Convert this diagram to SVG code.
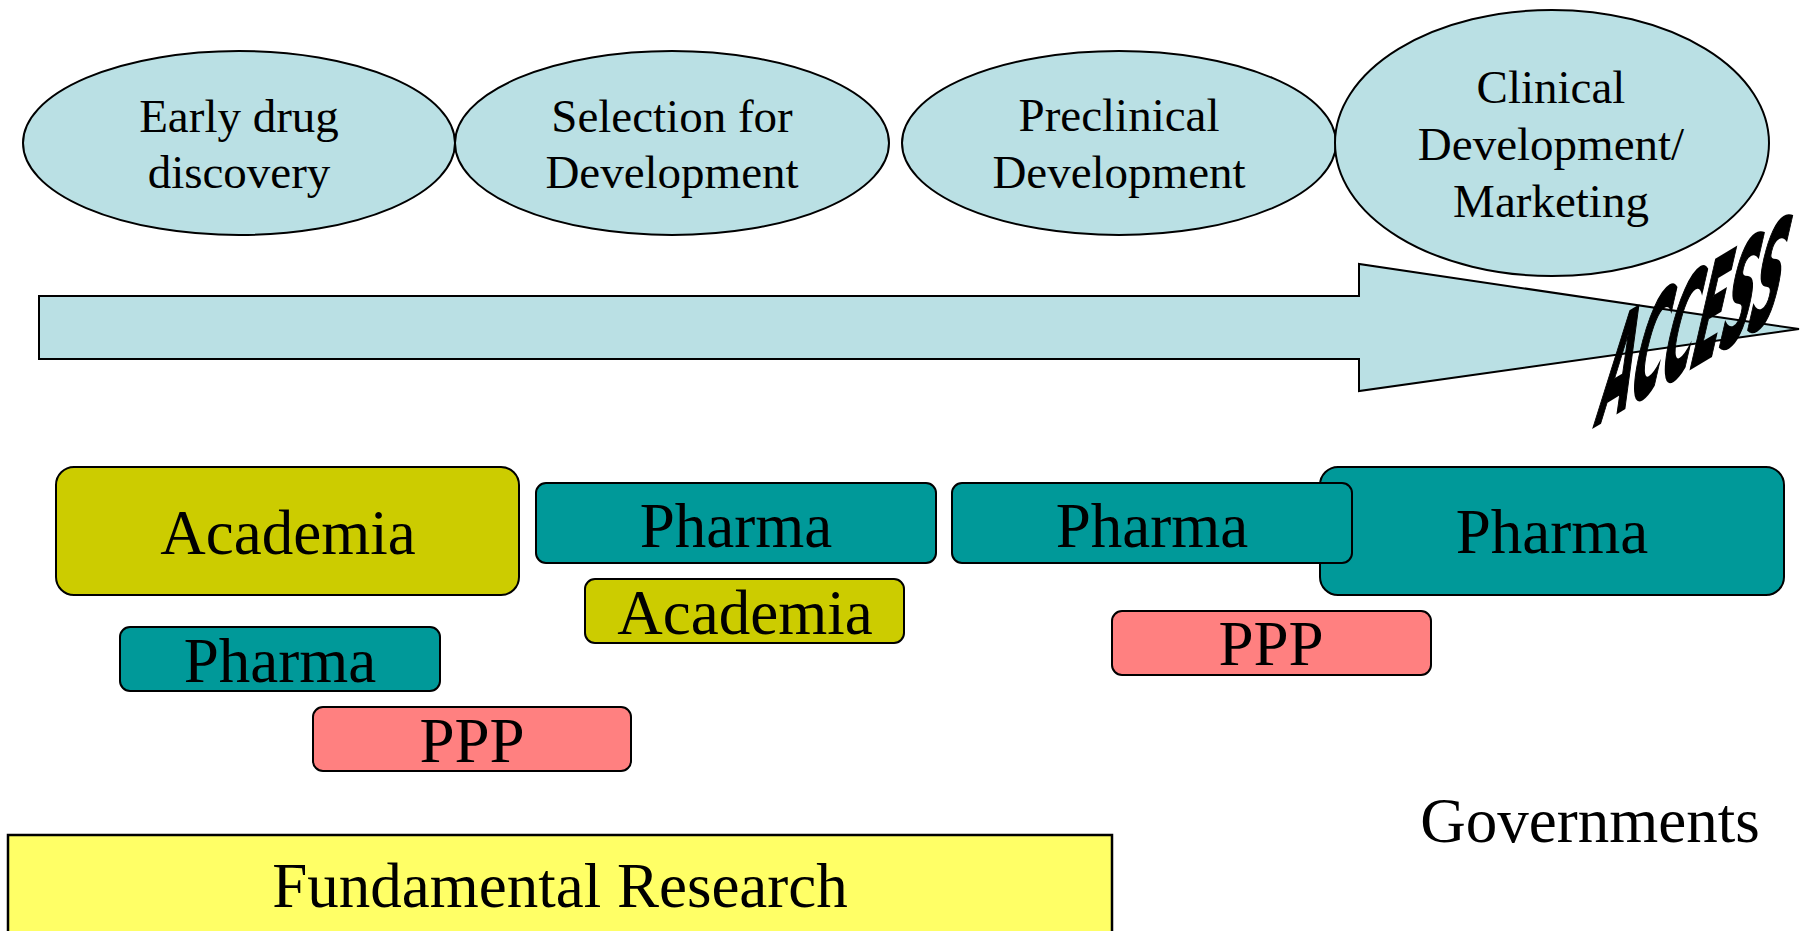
<svg xmlns="http://www.w3.org/2000/svg" width="1811" height="931" viewBox="0 0 1811 931">
<style>
.ell{fill:#BAE0E4;stroke:#000;stroke-width:2}
.t{font-family:"Liberation Serif","Times New Roman",serif;fill:#000;text-anchor:middle}
.et{font-size:47px}
.bt{font-size:63px}
.ph{fill:#009999;stroke:#000;stroke-width:2}
.ac{fill:#CCCC00;stroke:#000;stroke-width:2}
.pp{fill:#FF8080;stroke:#000;stroke-width:2}
</style>
<rect width="1811" height="931" fill="#fff"/>
<g id="stage1"><ellipse class="ell" cx="239" cy="143" rx="216" ry="92"/><text class="t et" x="239" y="132">Early drug</text><text class="t et" x="239" y="188">discovery</text></g>
<g id="stage2"><ellipse class="ell" cx="672" cy="143" rx="217" ry="92"/><text class="t et" x="672" y="132">Selection for</text><text class="t et" x="672" y="188">Development</text></g>
<g id="stage3"><ellipse class="ell" cx="1119" cy="143" rx="217" ry="92"/><text class="t et" x="1119" y="131">Preclinical</text><text class="t et" x="1119" y="188">Development</text></g>
<g id="stage4"><ellipse class="ell" cx="1552" cy="143" rx="217" ry="133"/><text class="t et" x="1551" y="103">Clinical</text><text class="t et" x="1551" y="160">Development/</text><text class="t et" x="1551" y="217">Marketing</text></g>
<g id="connectors"><polygon points="39,296 1359,296 1359,264 1799,329 1359,391 1359,359 39,359" fill="#BAE0E4" stroke="#000" stroke-width="2"/></g>
<g id="access"><text transform="translate(1593,427) skewY(-31) skewX(-15) scale(0.326,1)" x="0" y="0" font-family="DejaVu Sans, Liberation Sans, sans-serif" font-weight="bold" font-size="128" fill="#000" stroke="#000" stroke-width="3">ACCESS</text></g>
<g id="academia1"><rect class="ac" x="56" y="467" width="463" height="128" rx="18"/><text class="t bt" x="288" y="554">Academia</text></g>
<g id="pharma1"><rect class="ph" x="536" y="483" width="400" height="80" rx="10"/><text class="t bt" x="736" y="547">Pharma</text></g>
<g id="academia2"><rect class="ac" x="585" y="579" width="319" height="64" rx="10"/><text class="t bt" x="745" y="634">Academia</text></g>
<g id="pharma0"><rect class="ph" x="120" y="627" width="320" height="64" rx="10"/><text class="t bt" x="280" y="682">Pharma</text></g>
<g id="ppp1"><rect class="pp" x="313" y="707" width="318" height="64" rx="10"/><text class="t bt" x="472" y="762">PPP</text></g>
<g id="pharma3"><rect class="ph" x="1320" y="467" width="464" height="128" rx="18"/><text class="t bt" x="1552" y="553">Pharma</text></g>
<g id="pharma2"><rect class="ph" x="952" y="483" width="400" height="80" rx="10"/><text class="t bt" x="1152" y="547">Pharma</text></g>
<g id="ppp2"><rect class="pp" x="1112" y="611" width="319" height="64" rx="10"/><text class="t bt" x="1271" y="665">PPP</text></g>
<g id="fundamental"><rect x="8" y="835" width="1104" height="110" fill="#FFFF66" stroke="#000" stroke-width="2.5"/><text class="t bt" x="560" y="907">Fundamental Research</text></g>
<g id="governments"><text class="t bt" x="1590" y="842">Governments</text></g>
</svg>
